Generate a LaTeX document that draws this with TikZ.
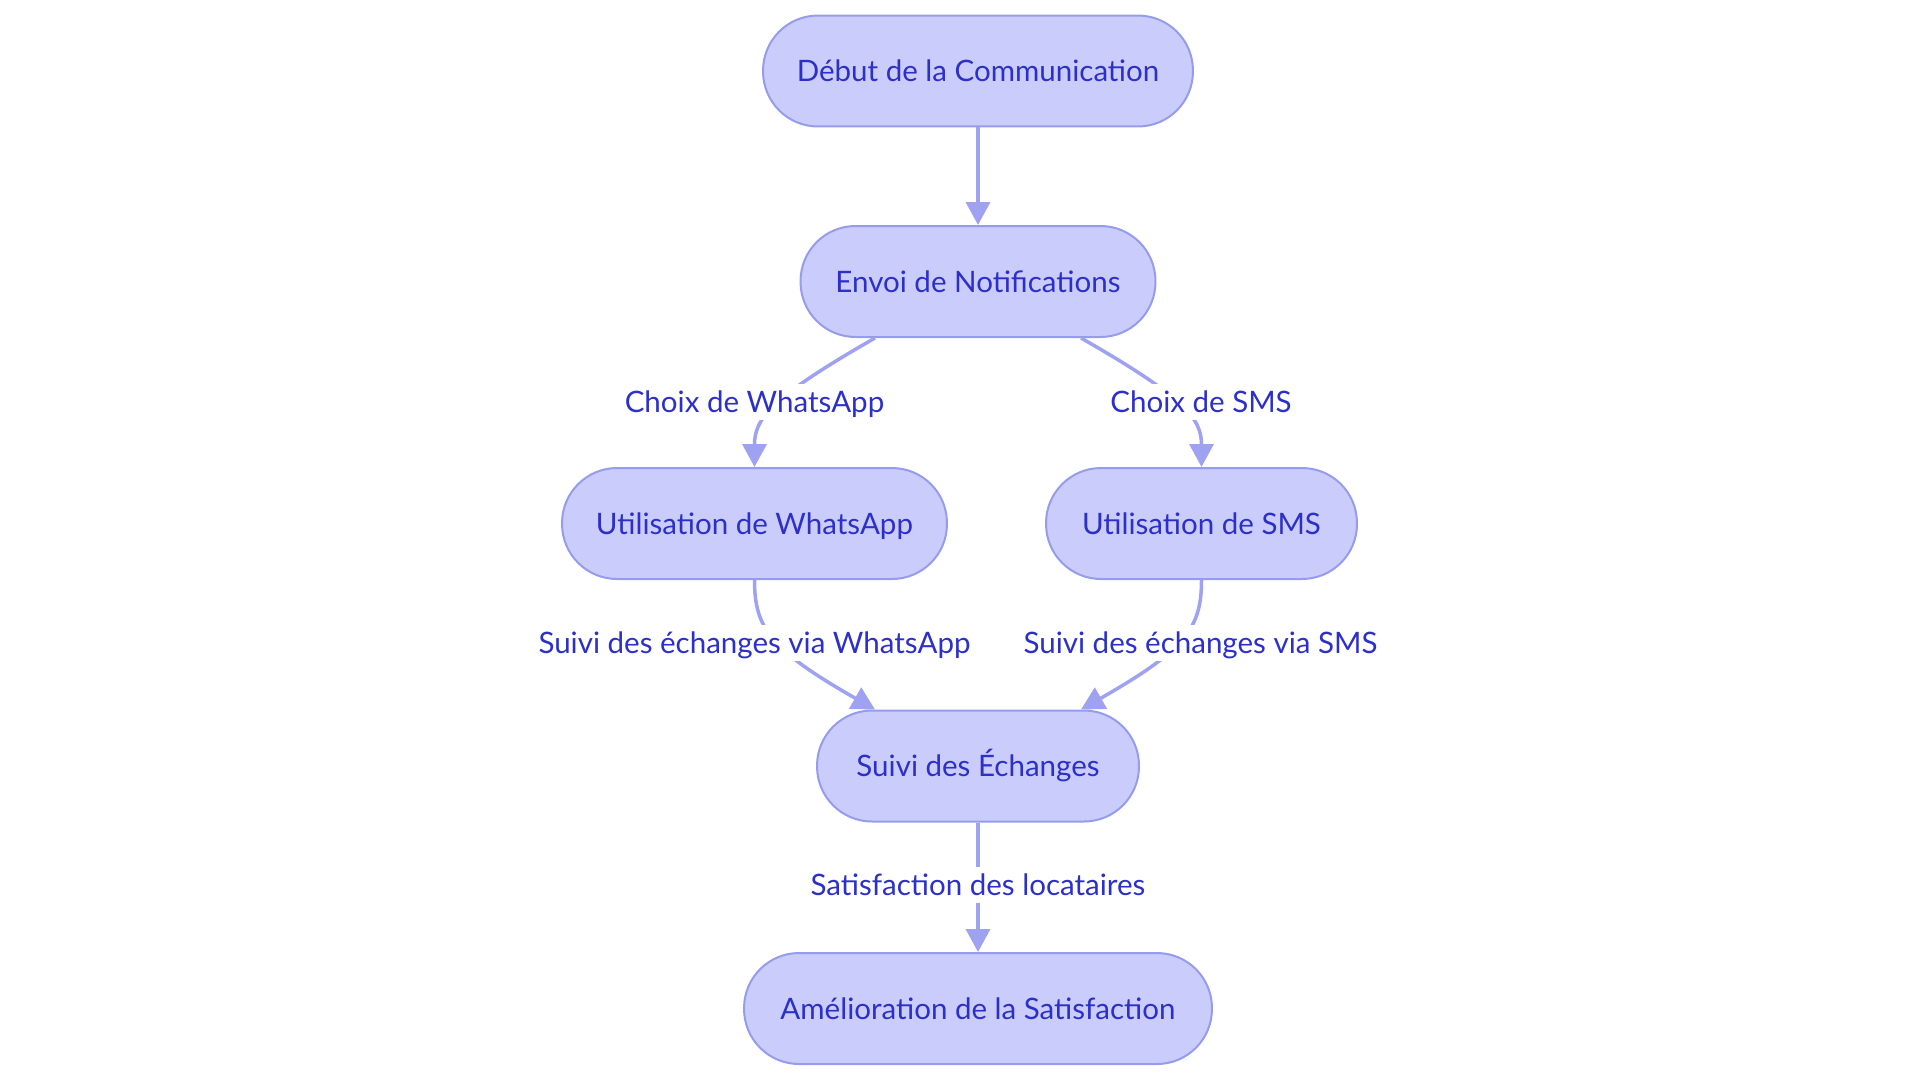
\documentclass[tikz,border=0pt]{standalone}
\usepackage{fontspec}
\setmainfont{Lato}
\usepackage{tikz}
\usetikzlibrary{arrows.meta,positioning,calc}

\definecolor{boxfill}{RGB}{202,204,252}
\definecolor{boxline}{RGB}{150,156,236}
\definecolor{edgecol}{RGB}{158,162,240}
\definecolor{txtcol}{RGB}{44,48,200}

\begin{document}
\begin{tikzpicture}[
    x=0.02cm, y=-0.02cm,
    block/.style={rectangle, draw=boxline, line width=0.04cm, fill=boxfill, rounded corners=1.1cm, minimum height=2.22cm, text=txtcol, text height=15.5pt, text depth=3.4pt, font=\fontsize{16.8}{20}\selectfont},
    arrow/.style={-{Triangle[length=0.46cm,width=0.48cm]}, draw=edgecol, line width=0.07cm},
    edgelabel/.style={fill=white, text=txtcol, inner sep=1pt, text height=15.5pt, text depth=3.4pt, font=\fontsize{16.8}{20}\selectfont}
]
\useasboundingbox (0,0) rectangle (1920,1083);

% Blocks
\node[block, minimum width=8.6cm] (debut) at (978,71) {Début de la Communication};
\node[block, minimum width=7.1cm] (notif) at (978,281.5) {Envoi de Notifications};
\node[block, minimum width=7.7cm] (whatsapp) at (754.5,523.5) {Utilisation de WhatsApp};
\node[block, minimum width=6.22cm] (sms) at (1201.5,523.5) {Utilisation de SMS};
\node[block, minimum width=6.44cm] (suivi) at (978,766) {Suivi des Échanges};
\node[block, minimum width=9.36cm] (amelio) at (978,1008.5) {Amélioration de la Satisfaction};

% Arrows
\draw[arrow] (debut) -- (notif);
\draw[arrow] ($(notif.south)+(-103,0)$) .. controls +(-105,60) and +(0,-48) .. (whatsapp.north);
\draw[arrow] ($(notif.south)+(103,0)$) .. controls +(105,60) and +(0,-48) .. (sms.north);
\draw[arrow] (whatsapp.south) .. controls +(0,48) and +(-105,-60) .. ($(suivi.north)+(-103,0)$);
\draw[arrow] (sms.south) .. controls +(0,48) and +(105,-60) .. ($(suivi.north)+(103,0)$);
\draw[arrow] (suivi) -- (amelio);

% Edge labels
\node[edgelabel] (lwa) at (754.5,402) {Choix de WhatsApp};
\node[edgelabel] (lsms) at (1201,402) {Choix de SMS};
\node[edgelabel] (lsuiviwa) at (754.5,643) {Suivi des échanges via WhatsApp};
\node[edgelabel] (lsuivisms) at (1200.5,643) {Suivi des échanges via SMS};
\node[edgelabel] (lsatis) at (978,885) {Satisfaction des locataires};

\end{tikzpicture}
\end{document}
